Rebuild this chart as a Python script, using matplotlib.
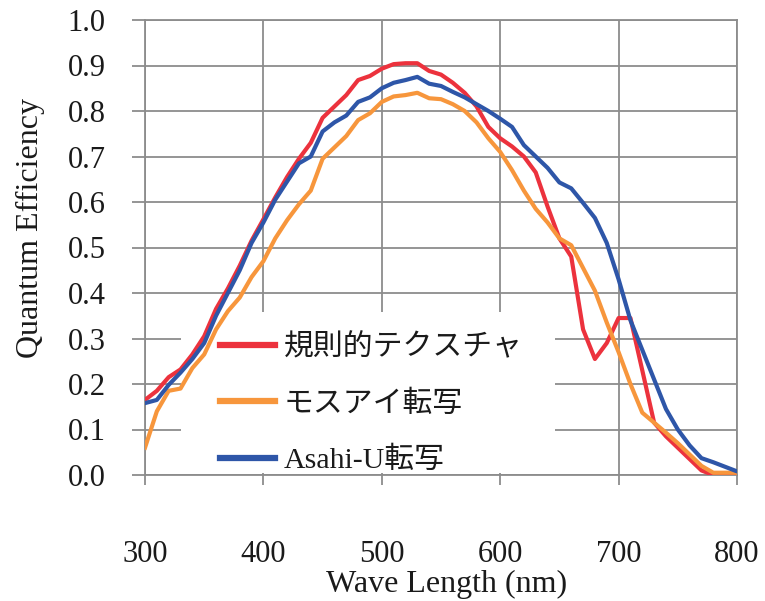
import matplotlib
matplotlib.use("Agg")
import matplotlib.pyplot as plt
from matplotlib.patches import Rectangle

wavelength = list(range(300, 801, 10))

regular_texture = [0.165, 0.185, 0.215, 0.232, 0.265, 0.305, 0.365, 0.41, 0.46, 0.515,
                   0.562, 0.61, 0.655, 0.695, 0.73, 0.785, 0.81, 0.835, 0.868, 0.877,
                   0.893, 0.903, 0.905, 0.905, 0.888, 0.88, 0.862, 0.84, 0.81, 0.765,
                   0.74, 0.722, 0.70, 0.665, 0.59, 0.52, 0.48, 0.32, 0.255, 0.29,
                   0.345, 0.345, 0.23, 0.115, 0.085, 0.06, 0.035, 0.01, 0.0, 0.0, 0.0]

moth_eye = [0.06, 0.14, 0.185, 0.19, 0.235, 0.265, 0.32, 0.36, 0.39, 0.435,
            0.47, 0.52, 0.56, 0.595, 0.625, 0.695, 0.72, 0.745, 0.78, 0.795,
            0.82, 0.832, 0.835, 0.84, 0.828, 0.826, 0.815, 0.80, 0.775, 0.74,
            0.71, 0.67, 0.625, 0.585, 0.555, 0.52, 0.505, 0.455, 0.405, 0.335,
            0.27, 0.20, 0.137, 0.115, 0.093, 0.07, 0.045, 0.02, 0.005, 0.005, 0.005]

asahi_u = [0.158, 0.165, 0.198, 0.225, 0.255, 0.29, 0.35, 0.40, 0.45, 0.51,
           0.555, 0.605, 0.645, 0.685, 0.70, 0.755, 0.775, 0.79, 0.82, 0.83,
           0.85, 0.862, 0.868, 0.875, 0.86, 0.855, 0.842, 0.83, 0.815, 0.80,
           0.783, 0.765, 0.725, 0.70, 0.675, 0.643, 0.63, 0.598, 0.565, 0.51,
           0.43, 0.34, 0.275, 0.21, 0.145, 0.10, 0.065, 0.037, 0.028, 0.018, 0.008]

labels = ["規則的テクスチャ", "モスアイ転写", "Asahi-U転写"]
colors = ["#EC323D", "#F7963C", "#2E56A8"]

x_ticks = [300, 400, 500, 600, 700, 800]
y_ticks = [0.0, 0.1, 0.2, 0.3, 0.4, 0.5, 0.6, 0.7, 0.8, 0.9, 1.0]

fam = ["Liberation Serif", "Noto Sans CJK JP", "DejaVu Sans"]
plt.rcParams["font.family"] = fam

W, H = 765, 601
AX_L, AX_R, AX_T, AX_B = 145, 737, 20, 475
fig = plt.figure(figsize=(W / 100, H / 100), dpi=100)
ax = fig.add_axes([AX_L / W, (H - AX_B) / H, (AX_R - AX_L) / W, (AX_B - AX_T) / H])

for vals, lab, col in zip([regular_texture, moth_eye, asahi_u], labels, colors):
    ax.plot(wavelength, vals, color=col, lw=3.0, label=lab, zorder=4,
            solid_joinstyle="round")

ax.set_xlim(300, 800)
ax.set_ylim(0, 1.0)
ax.set_xticks(x_ticks)
ax.set_yticks(y_ticks)
ax.set_yticklabels([f"{v:.1f}" for v in y_ticks])
ax.set_axisbelow(True)
ax.grid(True, color="#8C8C8C", lw=1.3, zorder=0.5)
for s in ax.spines.values():
    s.set_color("#8C8C8C")
    s.set_linewidth(1.3)

ax.tick_params(axis="x", direction="out", length=7, width=1.3, color="#8C8C8C",
               pad=40, labelsize=22, labelcolor="#1a1a1a")
ax.tick_params(axis="y", direction="out", length=9.4, width=1.3, color="#8C8C8C",
               pad=19, labelsize=22, labelcolor="#1a1a1a")

# white legend background (covers gridlines, under the curves)
pw, ph = AX_R - AX_L, AX_B - AX_T
bg = Rectangle(((181 - AX_L) / pw, (AX_B - 473) / ph), (555 - 181) / pw, (473 - 312) / ph,
               transform=ax.transAxes, facecolor="white", edgecolor="none", zorder=2)
ax.add_patch(bg)

fig.text(447 / W, 1 - 584 / H, "Wave Length (nm)", ha="center", va="center",
         fontsize=23, color="#1a1a1a")
fig.text(30 / W, 1 - 228 / H, "Quantum Efficiency", ha="center", va="center",
         rotation=90, fontsize=23, color="#1a1a1a")

leg = ax.legend(loc="center left", bbox_to_anchor=((220 - AX_L) / pw, (AX_B - 404) / ph),
                frameon=False, fontsize=21.5, handlelength=1.85, handletextpad=0.28,
                labelspacing=0.97, borderpad=0, borderaxespad=0)
leg.set_zorder(3)
for h in leg.get_lines():
    h.set_linewidth(4.5)
for t in leg.get_texts():
    t.set_color("#1a1a1a")

fig.savefig("out.png", dpi=100)
